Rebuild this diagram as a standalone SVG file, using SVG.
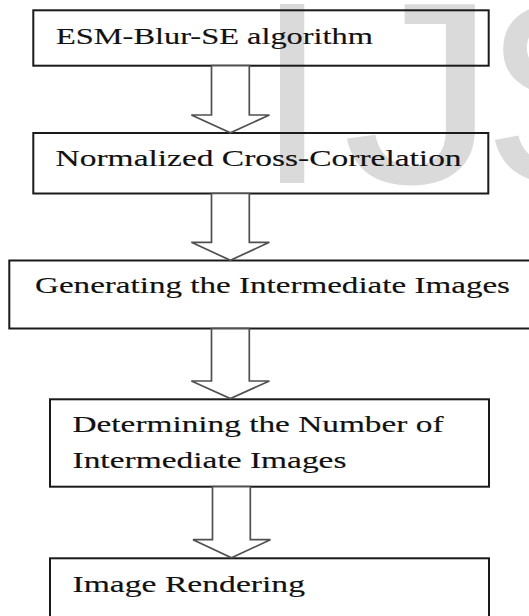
<svg xmlns="http://www.w3.org/2000/svg" width="529" height="616" viewBox="0 0 529 616">
  <style>
    .wm { font-family: "Liberation Sans", Arial, sans-serif; font-size: 260px; fill: #dadada; }
    .box { fill: none; stroke: #1a1a1a; stroke-width: 2; }
    .lbl { font-family: "Liberation Serif", "Times New Roman", serif; font-size: 24px; fill: #111; stroke: #111; stroke-width: 0.15; }
    .arrow { fill: #fff; stroke: #505050; stroke-width: 1.7; stroke-linejoin: miter; }
  </style>
  <rect width="529" height="616" fill="#fff"/>

  <!-- background letters -->
  <g id="watermark">
    <text class="wm" x="256" y="183">I</text>
    <text class="wm" transform="translate(342,183) scale(1.2,1)">J</text>
    <text class="wm" x="483" y="183">S</text>
  </g>

  <g id="step-esm">
    <rect class="box" x="33.3" y="10.3" width="455.4" height="55.4"/>
    <text class="lbl" x="56" y="44.3" textLength="317" lengthAdjust="spacingAndGlyphs">ESM-Blur-SE algorithm</text>
  </g>
  <g id="step-ncc">
    <rect class="box" x="33.3" y="133" width="455" height="60.5"/>
    <text class="lbl" x="55.6" y="165.5" textLength="406" lengthAdjust="spacingAndGlyphs">Normalized Cross-Correlation</text>
  </g>
  <g id="step-generate">
    <rect class="box" x="9.3" y="260.5" width="530" height="68"/>
    <text class="lbl" x="35" y="293.3" textLength="475" lengthAdjust="spacingAndGlyphs">Generating the Intermediate Images</text>
  </g>
  <g id="step-count">
    <rect class="box" x="50" y="399.3" width="439" height="87.4"/>
    <text class="lbl" x="72.5" y="432.3" textLength="371" lengthAdjust="spacingAndGlyphs">Determining the Number of</text>
    <text class="lbl" x="72.5" y="468" textLength="274" lengthAdjust="spacingAndGlyphs">Intermediate Images</text>
  </g>
  <g id="step-render">
    <rect class="box" x="50" y="558.3" width="439" height="70"/>
    <text class="lbl" x="72.5" y="591.7" textLength="232.5" lengthAdjust="spacingAndGlyphs">Image Rendering</text>
  </g>

  <!-- hollow block arrows between the steps -->
  <g id="connectors">
    <path class="arrow" d="M211.5,65.7 L249.3,65.7 L249.3,115 L269.4,115 L230.4,132.7 L191.4,115 L211.5,115 Z"/>
    <path class="arrow" d="M211.5,193.5 L249.3,193.5 L249.3,242.3 L269.4,242.3 L230.4,260.3 L191.4,242.3 L211.5,242.3 Z"/>
    <path class="arrow" d="M211.5,328.7 L249.3,328.7 L249.3,381 L269.4,381 L230.4,398.5 L191.4,381 L211.5,381 Z"/>
    <path class="arrow" d="M212.5,486.7 L250.3,486.7 L250.3,539.7 L270.4,539.7 L231.5,557.8 L193,539.7 L212.5,539.7 Z"/>
  </g>
</svg>
